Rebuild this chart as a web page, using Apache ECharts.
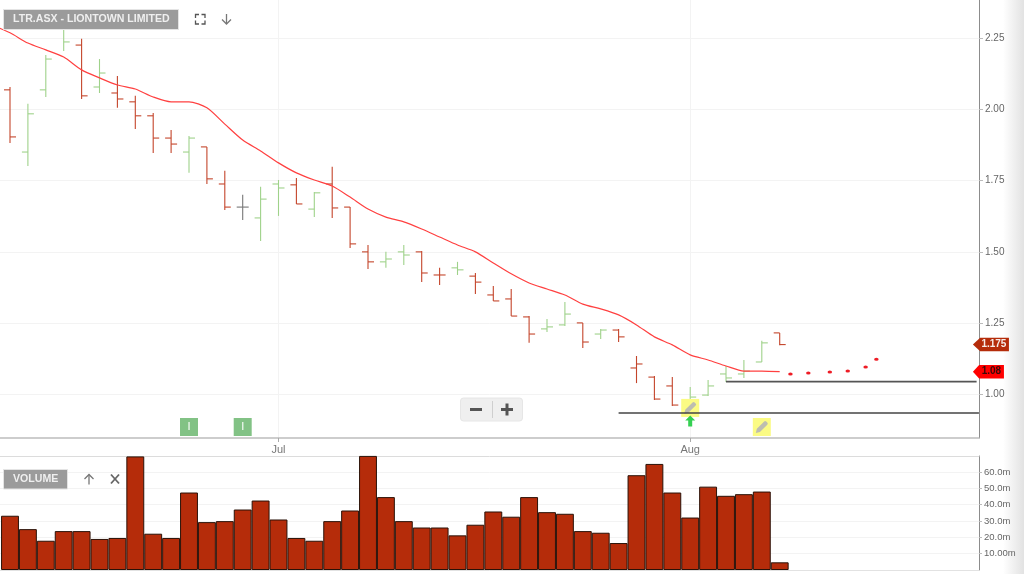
<!DOCTYPE html>
<html><head><meta charset="utf-8">
<style>html,body{margin:0;padding:0;background:#fff}#c{width:1024px;height:574px}</style>
<script src="https://cdn.jsdelivr.net/npm/echarts@6/dist/echarts.min.js"></script>
</head><body><div id="c"></div>
<script>
const opens=[2.068,1.850,2.068,2.296,2.225,2.078,2.057,2.026,1.977,1.899,1.850,1.868,1.738,1.657,1.619,1.738,1.735,1.650,1.738,1.657,1.500,1.465,1.500,1.500,1.419,1.444,1.415,1.349,1.335,1.272,1.230,1.244,1.251,1.212,1.226,1.093,1.061,1.030,0.967,0.998,1.072,1.072,1.114,1.216];
const highs=[2.078,2.019,2.190,2.313,2.247,2.176,2.117,2.047,1.987,1.927,1.906,1.868,1.784,1.700,1.728,1.752,1.759,1.710,1.798,1.657,1.524,1.500,1.524,1.503,1.444,1.465,1.426,1.380,1.370,1.275,1.265,1.324,1.251,1.230,1.230,1.135,1.065,1.061,1.026,1.051,1.100,1.121,1.188,1.216];
const lows=[1.882,1.801,2.043,2.204,2.036,2.057,2.005,1.931,1.847,1.847,1.777,1.738,1.647,1.612,1.538,1.626,1.668,1.622,1.619,1.514,1.440,1.444,1.454,1.394,1.384,1.419,1.352,1.328,1.275,1.181,1.219,1.240,1.163,1.195,1.184,1.040,0.981,0.960,0.946,0.995,1.044,1.058,1.114,1.173];
const closes=[1.903,1.984,2.176,2.236,2.047,2.127,2.036,1.977,1.899,1.878,1.899,1.756,1.657,1.657,1.685,1.724,1.668,1.707,1.654,1.528,1.465,1.475,1.489,1.426,1.419,1.437,1.394,1.328,1.275,1.212,1.237,1.282,1.184,1.226,1.202,1.107,0.984,0.963,0.991,1.030,1.058,1.082,1.181,1.175];
const movingAverage=[2.295,2.268,2.232,2.208,2.183,2.138,2.110,2.085,2.071,2.043,2.026,2.026,2.005,1.948,1.892,1.854,1.812,1.777,1.752,1.731,1.692,1.650,1.622,1.605,1.580,1.552,1.524,1.500,1.461,1.423,1.391,1.370,1.349,1.317,1.300,1.279,1.244,1.202,1.174,1.139,1.121,1.100,1.082,1.082,1.080];
const volumes=[33.2,25,17.9,23.8,23.8,19,19.6,69.5,22.2,19.6,47.4,29.3,29.9,37,42.5,30.9,19.6,17.9,29.9,36.4,69.8,44.6,29.9,26,26,21.2,27.7,35.8,32.6,44.6,35.4,34.4,23.8,22.8,16.5,58,64.9,47.4,32.1,51,45.4,46.4,48,4.7];
const forecastX=[43.6,44.6,45.8,46.8,47.8,48.4];
const forecastY=[1.072,1.075,1.079,1.082,1.096,1.124];
const priceTicks=[1,1.25,1.5,1.75,2,2.25];
const volumeTicks=[10,20,30,40,50,60];
const volumeTickLabels=['10.00m','20.0m','30.0m','40.0m','50.0m','60.0m'];
const monthTicks=[15,38];
const monthLabels=['Jul','Aug'];
const supportLines=[[34,54.13,0.935],[40,54.0,1.045]];
const insiderEvents=[[10,0.886],[13,0.886]];
const noteEvents=[[38,0.953],[42,0.886]];
const buyArrows=[[38,0.907]];
const priceTags=[[54.8,1.175,'1.175'],[54.66,1.08,'1.08']];

const RED='#c4452b',GREEN='#9fd28a',GRAY='#777',TXT='#666';
const ohlc=opens.map((o,i)=>[i,o,highs[i],lows[i],closes[i],i?Math.sign(closes[i]-closes[i-1]):-1]);
const X0=-0.5587,X1=54.134;
const font='"Liberation Sans",Arial,sans-serif';
const pencil='path://M0 12 L1 8 L8 1 Q9 0 10 1 L11 2 Q12 3 11 4 L4 11 Z';
const chart=echarts.init(document.getElementById('c'),null,{renderer:'canvas'});
function icon(points,color,w){return {type:'polyline',shape:{points},style:{stroke:color,lineWidth:w||1.3,fill:null},z:50};}
chart.setOption({
 animation:false,
 backgroundColor:'#fff',
 grid:[
  {left:0,top:0,width:979,height:438,show:false},
  {left:0,top:456,width:979,height:114,show:false}
 ],
 xAxis:[
  {type:'value',gridIndex:0,min:X0,max:X1,
   axisLine:{onZero:false,lineStyle:{color:'#bdbdbd',width:1.5}},
   axisTick:{show:true,customValues:monthTicks,length:4,lineStyle:{color:'#aaa'}},
   axisLabel:{customValues:monthTicks,formatter:v=>monthLabels[monthTicks.indexOf(v)]||'',color:'#777',fontSize:11,fontFamily:font,margin:6,showMinLabel:true,showMaxLabel:true},
   splitLine:{show:true,lineStyle:{color:'#f3f3f3',width:1}}},
  {type:'value',gridIndex:1,position:'bottom',min:X0,max:X1,axisLine:{show:true,onZero:false,lineStyle:{color:'#e2e2e2',width:1}},axisTick:{show:false},axisLabel:{show:false},splitLine:{show:false}},
  {type:'value',gridIndex:1,position:'top',min:X0,max:X1,axisLine:{show:true,onZero:false,lineStyle:{color:'#dcdcdc',width:1}},axisTick:{show:false},axisLabel:{show:false},splitLine:{show:false}}
 ],
 yAxis:[
  {type:'value',gridIndex:0,position:'right',min:0.8475,max:2.383,
   axisLine:{show:true,onZero:false,lineStyle:{color:'#8c8c8c',width:1}},
   axisTick:{show:true,customValues:priceTicks,length:4,lineStyle:{color:'#bbb'}},
   axisLabel:{customValues:priceTicks,formatter:v=>v.toFixed(2),color:TXT,fontSize:10,fontFamily:font,margin:6,padding:[2,0,0,0]},
   splitLine:{show:true,lineStyle:{color:'#f3f3f3',width:1}}},
  {type:'value',gridIndex:1,position:'right',min:0,max:69.75,
   axisLine:{show:true,onZero:false,lineStyle:{color:'#8c8c8c',width:1}},
   axisTick:{show:true,customValues:volumeTicks,length:3,lineStyle:{color:'#bbb'}},
   axisLabel:{customValues:volumeTicks,formatter:v=>volumeTickLabels[volumeTicks.indexOf(v)]||'',color:TXT,fontSize:9.5,fontFamily:font,margin:5},
   splitLine:{show:true,lineStyle:{color:'#f3f3f3',width:1}}}
 ],
 series:[
  {type:'line',name:'MA',xAxisIndex:0,yAxisIndex:0,data:movingAverage.map((v,i)=>[i-1,v]),symbol:'none',smooth:0.25,z:4,
   lineStyle:{color:'#ff4040',width:1.2}},
  {type:'custom',name:'OHLC',xAxisIndex:0,yAxisIndex:0,data:ohlc,z:3,clip:true,
   encode:{x:0,y:[1,2,3,4]},
   renderItem:(p,api)=>{
     const i=api.value(0),o=api.coord([i,api.value(1)]),h=api.coord([i,api.value(2)]),l=api.coord([i,api.value(3)]),c=api.coord([i,api.value(4)]);
     const d=api.value(5),col=d>0?GREEN:d<0?RED:GRAY,st={stroke:col,lineWidth:1.1,fill:null};
     return {type:'group',children:[
       {type:'line',shape:{x1:h[0],y1:h[1],x2:l[0],y2:l[1]},style:st},
       {type:'line',shape:{x1:o[0]-6,y1:o[1],x2:o[0],y2:o[1]},style:st},
       {type:'line',shape:{x1:c[0],y1:c[1],x2:c[0]+6,y2:c[1]},style:st}
     ]};
   }},
  {type:'scatter',name:'Forecast',xAxisIndex:0,yAxisIndex:0,data:forecastX.map((x,i)=>[x,forecastY[i]]),symbol:'circle',symbolSize:[4.5,3],z:4,
   itemStyle:{color:'#ee1c25',opacity:1}},
  ...supportLines.map((s,k)=>({type:'line',name:'Support'+k,xAxisIndex:0,yAxisIndex:0,data:[[s[0],s[2]],[s[1],s[2]]],symbol:'none',z:7,
    lineStyle:{color:k?'#555':'#444',width:k?1.8:1.5}})),
  {type:'scatter',name:'Insider',xAxisIndex:0,yAxisIndex:0,data:insiderEvents,symbol:'rect',symbolSize:18,z:5,
   itemStyle:{color:'#82c285',opacity:1},label:{show:true,position:'inside',formatter:'I',color:'#fff',fontSize:11,fontFamily:font}},
  {type:'scatter',name:'Notes',xAxisIndex:0,yAxisIndex:0,data:noteEvents,symbol:'rect',symbolSize:18,z:5,itemStyle:{color:'#fbfb84',opacity:1}},
  {type:'scatter',name:'NoteIcons',xAxisIndex:0,yAxisIndex:0,data:noteEvents,symbol:pencil,symbolSize:12,z:6,itemStyle:{color:'#bdbdb0',opacity:1}},
  {type:'scatter',name:'Arrow',xAxisIndex:0,yAxisIndex:0,data:buyArrows,symbol:'path://M5 0 L10 5 L7 5 L7 11 L3 11 L3 5 L0 5 Z',symbolSize:[10,11],z:6,itemStyle:{color:'#35d052',opacity:1}},
  {type:'scatter',name:'Tags',xAxisIndex:0,yAxisIndex:0,clip:false,z:20,data:priceTags.map((t,i)=>({value:[t[0],t[1]],itemStyle:{color:i?'#ff0000':'#b52c0a',opacity:1},
     label:{color:i?'#3a0a0a':'#f6ece8'}})),
   symbol:'path://M0 6.5 L6 0 H30 V13 H6 Z',
   symbolSize:(v,p)=>p.dataIndex===0?[36,13.5]:[31,13.5],
   label:{show:true,position:'inside',offset:[3,0],formatter:p=>priceTags[p.dataIndex][2],fontSize:10,fontFamily:font,fontWeight:'bold'}},
  {type:'bar',name:'Volume',xAxisIndex:1,yAxisIndex:1,data:volumes.map((v,i)=>[i,v]),barWidth:17.9,z:3,
   itemStyle:{color:'#b52c0a',borderColor:'#2a1208',borderWidth:1}}
 ],
 graphic:[
  {type:'rect',shape:{x:1003,y:0,width:21,height:574},z:-1,silent:true,
   style:{fill:{type:'linear',x:0,y:0,x2:1,y2:0,colorStops:[{offset:0,color:'#ffffff'},{offset:1,color:'#e2e2e2'}]}}},
  {type:'rect',shape:{x:3.5,y:9.5,width:175,height:20},z:40,style:{fill:'#9b9b9b',stroke:'#e4e4e4',lineWidth:1}},
  {type:'text',x:13,y:19.5,z:41,style:{text:'LTR.ASX - LIONTOWN LIMITED',fill:'#efefef',font:'bold 10.6px '+font,verticalAlign:'middle'}},
  icon([[195.5,18],[195.5,14.5],[199,14.5]],'#555'),icon([[201.5,14.5],[205,14.5],[205,18]],'#555'),
  icon([[195.5,20.5],[195.5,24],[199,24]],'#555'),icon([[201.5,24],[205,24],[205,20.5]],'#555'),
  icon([[226.5,14],[226.5,24]],'#777'),icon([[222,19.5],[226.5,24],[231,19.5]],'#777'),
  {type:'rect',shape:{x:460.5,y:398,width:62,height:23,r:3},z:40,style:{fill:'#efefef',stroke:'#e6e6e6'}},
  {type:'rect',shape:{x:470,y:408,width:12,height:3},z:41,style:{fill:'#555'}},
  {type:'rect',shape:{x:501,y:408,width:12,height:3},z:41,style:{fill:'#555'}},
  {type:'rect',shape:{x:505.5,y:403.5,width:3,height:12},z:41,style:{fill:'#555'}},
  {type:'rect',shape:{x:492,y:401,width:1,height:17},z:41,style:{fill:'#cfcfcf'}},
  {type:'rect',shape:{x:3.5,y:469.5,width:64,height:19.5},z:40,style:{fill:'#9b9b9b',stroke:'#e4e4e4',lineWidth:1}},
  {type:'text',x:13,y:479.5,z:41,style:{text:'VOLUME',fill:'#efefef',font:'bold 10.6px '+font,verticalAlign:'middle'}},
  icon([[89,484.5],[89,474.5]],'#777'),icon([[84.5,479],[89,474.5],[93.5,479]],'#777'),
  icon([[111,474.5],[119,483.5]],'#666',1.8),icon([[119,474.5],[111,483.5]],'#666',1.8)
 ]
});
</script></body></html>
